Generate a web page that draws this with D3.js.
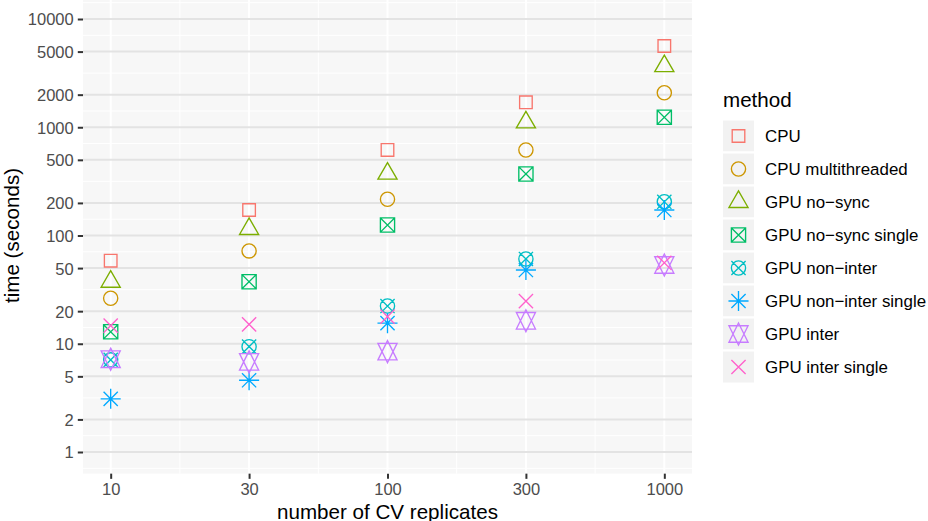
<!DOCTYPE html>
<html>
<head>
<meta charset="utf-8">
<script src="https://cdn.jsdelivr.net/npm/d3@7"></script>
<style>
  html, body { margin: 0; padding: 0; background: #ffffff; }
  svg { display: block; }
  text { font-family: "Liberation Sans", Arial, Helvetica, sans-serif; }
</style>
</head>
<body>
<svg id="chart" width="928" height="521"></svg>
<script>
// Number of cross-validation replicates (x categories)
const replicates = [10, 30, 100, 300, 1000];

// Methods, in legend order
const methods = [
  "CPU",
  "CPU multithreaded",
  "GPU no\u2212sync",
  "GPU no\u2212sync single",
  "GPU non\u2212inter",
  "GPU non\u2212inter single",
  "GPU inter",
  "GPU inter single"
];

// Run time in seconds, one array per method (aligned with replicates)
const cpu               = [58.5, 172, 617, 1700, 5630];
const cpuMulti          = [26.3, 72, 216, 617, 2085];
const gpuNoSync         = [37.4, 115, 373, 1110, 3670];
const gpuNoSyncSingle   = [12.9, 37.4, 125, 370, 1236];
const gpuNonInter       = [7.1, 9.4, 22.3, 60.7, 205];
const gpuNonInterSingle = [3.1, 4.6, 15.5, 48, 172];
const gpuInter          = [7.2, 6.8, 8.45, 16.3, 53.4];
const gpuInterSingle    = [14.7, 15.1, 17.8, 24.8, 56];

const seriesValues = [cpu, cpuMulti, gpuNoSync, gpuNoSyncSingle,
                      gpuNonInter, gpuNonInterSingle, gpuInter, gpuInterSingle];

// y-axis tick labels
const yTicks = [1, 2, 5, 10, 20, 50, 100, 200, 500, 1000, 2000, 5000, 10000];

// Hue palette and R point shapes (pch) per method
const colors = ["#F8766D", "#CD9600", "#7CAE00", "#00BE67",
                "#00BFC4", "#00A9FF", "#C77CFF", "#FF61CC"];
const shapes = [0, 1, 2, 7, 13, 8, 11, 4];

const svg = d3.select("#chart");

// Panel geometry
const panel = { left: 83, right: 692 };
const yLo = 452, yHi = 19;          // pixel positions of 1 and 10000

const x = d3.scalePoint()
  .domain(replicates)
  .range([panel.left, panel.right])
  .padding(0.2);

const y = d3.scaleLog()
  .domain([1, 10000])
  .range([yLo, yHi]);

// 5% expansion on the log scale
const logMin = Math.log10(1), logMax = Math.log10(10000);
const ext = (logMax - logMin) * 0.05;
const panelTop = y(Math.pow(10, logMax + ext));
const panelBottom = y(Math.pow(10, logMin - ext));

// Panel background
svg.append("rect")
  .attr("x", panel.left).attr("y", panelTop)
  .attr("width", panel.right - panel.left)
  .attr("height", panelBottom - panelTop)
  .attr("fill", "#F7F7F7");

const grid = svg.append("g");

// Minor horizontal grid: midpoints between breaks in log space
const logBreaks = yTicks.map(v => Math.log10(v));
const extBreaks = [logBreaks[0] - (logBreaks[1] - logBreaks[0]), ...logBreaks,
                   logBreaks[logBreaks.length - 1] + (logBreaks[logBreaks.length - 1] - logBreaks[logBreaks.length - 2])];
const yMinor = [];
for (let i = 0; i < extBreaks.length - 1; i++) {
  const m = (extBreaks[i] + extBreaks[i + 1]) / 2;
  if (m > logMin - ext && m < logMax + ext) yMinor.push(Math.pow(10, m));
}
grid.selectAll(".ymin").data(yMinor).join("line")
  .attr("x1", panel.left).attr("x2", panel.right)
  .attr("y1", d => y(d)).attr("y2", d => y(d))
  .attr("stroke", "#FFFFFF").attr("stroke-width", 1);

// Minor vertical grid: midpoints between categories
const xMinor = d3.pairs(replicates).map(([a, b]) => (x(a) + x(b)) / 2);
grid.selectAll(".xmin").data(xMinor).join("line")
  .attr("x1", d => d).attr("x2", d => d)
  .attr("y1", panelTop).attr("y2", panelBottom)
  .attr("stroke", "#FFFFFF").attr("stroke-width", 1);

// Major vertical grid
grid.selectAll(".xmaj").data(replicates).join("line")
  .attr("x1", d => x(d)).attr("x2", d => x(d))
  .attr("y1", panelTop).attr("y2", panelBottom)
  .attr("stroke", "#FFFFFF").attr("stroke-width", 2);

// Major horizontal grid
grid.selectAll(".ymaj").data(yTicks).join("line")
  .attr("x1", panel.left).attr("x2", panel.right)
  .attr("y1", d => y(d)).attr("y2", d => y(d))
  .attr("stroke", "#E3E3E3").attr("stroke-width", 2);

// R-style point symbol paths; r is the base symbol radius
function symbolPath(pch, r) {
  const p = d3.path();
  const TRC0 = Math.sqrt(4 * Math.PI / (3 * Math.sqrt(3)));
  const TRC1 = TRC0 * Math.sqrt(3) / 2;
  const TRC2 = TRC0 / 2;
  const SQRC = Math.sqrt(Math.PI / 4);
  const cross = (c) => {
    p.moveTo(-c, -c); p.lineTo(c, c);
    p.moveTo(-c, c); p.lineTo(c, -c);
  };
  const circle = (c) => {
    p.moveTo(c, 0); p.arc(0, 0, c, 0, 2 * Math.PI);
  };
  switch (pch) {
    case 0: { const c = r * SQRC; p.rect(-c, -c, 2 * c, 2 * c); break; }
    case 1: circle(r); break;
    case 2: {
      const t = TRC0 * r, yc = TRC2 * r, xc = TRC1 * r;
      p.moveTo(0, -t); p.lineTo(xc, yc); p.lineTo(-xc, yc); p.closePath();
      break;
    }
    case 4: cross(r); break;
    case 7: p.rect(-r, -r, 2 * r, 2 * r); cross(r); break;
    case 8: {
      cross(r);
      const c = Math.SQRT2 * r;
      p.moveTo(-c, 0); p.lineTo(c, 0);
      p.moveTo(0, -c); p.lineTo(0, c);
      break;
    }
    case 11: {
      const t = TRC0 * r, yc = 0.5 * (TRC2 * r + t), xc = TRC1 * r;
      p.moveTo(0, -t); p.lineTo(xc, yc); p.lineTo(-xc, yc); p.closePath();
      p.moveTo(0, t); p.lineTo(xc, -yc); p.lineTo(-xc, -yc); p.closePath();
      break;
    }
    case 13: circle(r); cross(r); break;
  }
  return p.toString();
}

const R = 7.1;
const strokeW = 1.35;

// Points
const pts = [];
methods.forEach((m, i) => {
  seriesValues[i].forEach((v, j) => pts.push({ m: i, rep: replicates[j], v }));
});
svg.append("g").selectAll("path").data(pts).join("path")
  .attr("transform", d => `translate(${x(d.rep)},${y(d.v)})`)
  .attr("d", d => symbolPath(shapes[d.m], R))
  .attr("fill", "none")
  .attr("stroke", d => colors[d.m])
  .attr("stroke-width", strokeW);

// Axes
const tickLen = 5.2;
const yAxis = d3.axisLeft(y)
  .tickValues(yTicks)
  .tickFormat(d3.format("d"))
  .tickSize(tickLen)
  .tickPadding(4.1);
const gy = svg.append("g").attr("transform", `translate(${panel.left},0)`).call(yAxis);

const xAxis = d3.axisBottom(x)
  .tickSize(tickLen)
  .tickPadding(4.1);
const gx = svg.append("g").attr("transform", `translate(0,${panelBottom})`).call(xAxis);

[gx, gy].forEach(g => {
  g.select(".domain").remove();
  g.selectAll(".tick line").attr("stroke", "#333333").attr("stroke-width", 2);
  g.selectAll(".tick text")
    .attr("fill", "#4D4D4D")
    .style("font-size", "16.5px")
    .style("font-family", "'Liberation Sans', Arial, sans-serif");
});
gy.selectAll(".tick text").attr("dy", "0.36em");
gx.selectAll(".tick text").attr("dy", "0.74em");

// Axis titles
svg.append("text")
  .attr("x", (panel.left + panel.right) / 2)
  .attr("y", 518.5)
  .attr("text-anchor", "middle")
  .style("font-size", "20.6px")
  .attr("fill", "#000000")
  .text("number of CV replicates");

svg.append("text")
  .attr("transform", `translate(19,${(panelTop + panelBottom) / 2}) rotate(-90)`)
  .attr("text-anchor", "middle")
  .style("font-size", "20.6px")
  .attr("fill", "#000000")
  .text("time (seconds)");

// Legend
const legend = svg.append("g");
legend.append("text")
  .attr("x", 723).attr("y", 107)
  .style("font-size", "20.6px")
  .attr("fill", "#000000")
  .text("method");

const keySize = 33, keyX = 722, firstKeyCenter = 136;
const rows = legend.selectAll(".row").data(methods).join("g")
  .attr("transform", (d, i) => `translate(${keyX},${firstKeyCenter - keySize / 2 + i * keySize})`);
rows.append("rect")
  .attr("width", keySize).attr("height", keySize)
  .attr("fill", "#F2F2F2")
  .attr("stroke", "#FFFFFF").attr("stroke-width", 2);
rows.append("path")
  .attr("transform", `translate(${keySize / 2},${keySize / 2})`)
  .attr("d", (d, i) => symbolPath(shapes[i], R))
  .attr("fill", "none")
  .attr("stroke", (d, i) => colors[i])
  .attr("stroke-width", strokeW);
rows.append("text")
  .attr("x", 43).attr("y", keySize / 2)
  .attr("dy", "0.36em")
  .style("font-size", "16.9px")
  .attr("fill", "#000000")
  .text(d => d);
</script>
</body>
</html>
